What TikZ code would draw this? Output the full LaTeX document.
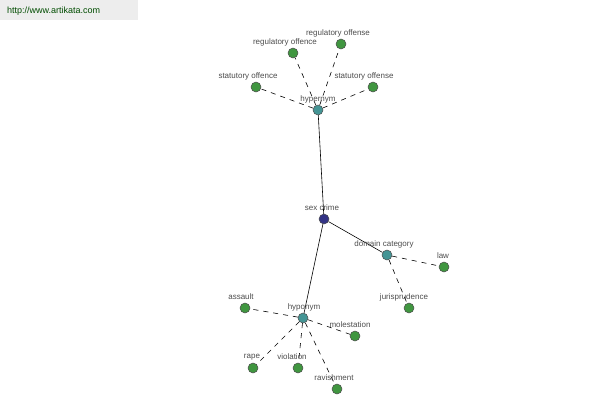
\documentclass[tikz,border=0pt]{standalone}
\usepackage{fontspec}
\setmainfont{Liberation Sans}
\begin{document}
\begin{tikzpicture}[x=1pt,y=-1pt,
  dot/.style={circle,draw=black!70,line width=0.5pt,inner sep=0pt,minimum size=10pt},
  leaf/.style={dot,fill=green!45!black!75},
  mid/.style={dot,fill=teal!70!white!90!black},
  root/.style={dot,fill=blue!40!black!80},
  lbl/.style={font=\fontsize{8}{9}\selectfont,text=black!70,inner sep=0pt},
  solid link/.style={draw=black,line width=0.6pt},
  dash link/.style={draw=black,line width=0.6pt,dash pattern=on 5pt off 5pt}]
\useasboundingbox (0,0) rectangle (600,400);
\fill[black!7] (0,0) rectangle (138,20);
\node[lbl,anchor=west,text=green!30!black,font=\fontsize{9}{10}\selectfont] (url) at (7,11) {http://www.artikata.com};
% nodes
\node[root] (sc) at (324,219) {};
\node[mid] (hyper) at (318,110) {};
\node[mid] (dom) at (387,255) {};
\node[mid] (hypo) at (303,318) {};
\node[leaf] (ro1) at (293,53) {};
\node[leaf] (ro2) at (341,44) {};
\node[leaf] (so1) at (256,87) {};
\node[leaf] (so2) at (373,87) {};
\node[leaf] (law) at (444,267) {};
\node[leaf] (jur) at (409,308) {};
\node[leaf] (ass) at (245,308) {};
\node[leaf] (mol) at (355,336) {};
\node[leaf] (rape) at (253,368) {};
\node[leaf] (vio) at (298,368) {};
\node[leaf] (rav) at (337,389) {};
% links
\draw[solid link] (sc) -- (hyper);
\draw[solid link] (sc) -- (dom);
\draw[solid link] (sc) -- (hypo);
\foreach \n in {ro1,ro2,so1,so2} \draw[dash link] (hyper) -- (\n);
\foreach \n in {law,jur} \draw[dash link] (dom) -- (\n);
\foreach \n in {ass,mol,rape,vio,rav} \draw[dash link] (hypo) -- (\n);
% labels
\node[lbl] (l-sc) at (322,208) {sex crime};
\node[lbl] (l-hyper) at (318,99) {hypernym};
\node[lbl] (l-dom) at (384,244) {domain category};
\node[lbl] (l-hypo) at (304,307) {hyponym};
\node[lbl] (l-ro1) at (285,42) {regulatory offence};
\node[lbl] (l-ro2) at (338,33) {regulatory offense};
\node[lbl] (l-so1) at (248,76) {statutory offence};
\node[lbl] (l-so2) at (364,76) {statutory offense};
\node[lbl] (l-law) at (443,256) {law};
\node[lbl] (l-jur) at (404,297) {jurisprudence};
\node[lbl] (l-ass) at (241,297) {assault};
\node[lbl] (l-mol) at (350,325) {molestation};
\node[lbl] (l-rape) at (252,357) {rape};
\node[lbl] (l-vio) at (292,357) {violation};
\node[lbl] (l-rav) at (334,378) {ravishment};
\end{tikzpicture}
\end{document}
